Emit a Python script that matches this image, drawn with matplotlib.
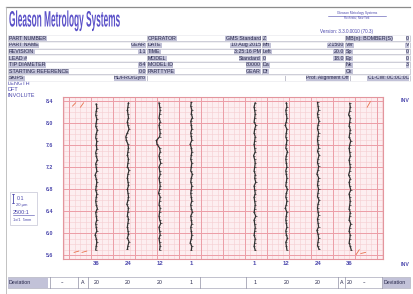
import numpy as np
import matplotlib
matplotlib.use('Agg')
import matplotlib.pyplot as plt
from matplotlib.patches import Rectangle
from matplotlib.transforms import Affine2D, blended_transform_factory
from matplotlib.patheffects import AbstractPathEffect

plt.rcParams['font.family'] = ['Liberation Sans', 'DejaVu Sans']

## Header texts
a_labels = ["PART NUMBER", "PART NAME", "REVISION", "LEAD #", "TIP DIAMETER", "STARTING REFERENCE", "SKIPS"]
a_values = ["", "GEAR", "1.1", "", "8.4", "0.0", "HL/FRO/Gyro"]
b_labels = ["OPERATOR", "DATE", "TIME", "MODEL", "MODEL ID", "PARTTYPE"]
b_values = ["GMS Standard", "10 Aug 2015", "3:25:16 PM", "Standard", "80000", "GEAR"]
c_labels = ["Z", "Mn", "Left", "0", "Da", "Df"]
c_values = ["", "2.1500", "20.0", "18.0", "", ""]
d_labels = ["MB(n): BOMBER(S)", "Ver", "Sp", "Ep", "Nk", "Ck"]
d_values = ["0", "V", "0", "0", "3", ""]
skip_texts = ["Prof. Alignment Off", "CL-CW: 0C:0C:0C"]

## Chart data
tooth_labels = ["36", "24", "12", "1", "1", "12", "24", "36"]
tooth_slot = [-4, -3, -2, -1, 1, 2, 3, 4]
y_labels = ["5.6", "6.0", "6.4", "6.8", "7.2", "7.6", "8.0", "8.4"]   # bottom -> top
trace_top = [7.05, 7.1, 7.1, 7.12, 7.1, 7.1, 7.12, 7.08]
trace_bottom = [0.42, 0.44, 0.42, 0.4, 0.4, 0.42, 0.44, 0.4]
# profile deviations (um), top -> bottom
dev = [
    [0, 1, 0, -1, 1, 0, -1, 2, 0, -1, 1, 0, 1, -1, 0, 2, -1, 0, 1, -2, 0, 1, 0, -1, 1, 0, -1, 0, 2, -1, 0, 1, -1, 0, 1, -2, 0, 1, 0, -1],
    [1, 0, -1, 0, 1, -1, 0, 2, -1, -4, -3, 0, 1, 0, -1, 1, 0, -1, 2, 0, -1, 0, 1, -1, 0, 1, 0, -2, 1, 0, -1, 1, 0, -1, 0, 1, -1, 2, 0, -1],
    [-1, 0, 1, 0, -1, 1, -1, 0, 1, 0, -6, -5, 0, 1, -1, 0, 2, -1, 0, 1, -1, 0, 1, 0, -2, 1, 0, -1, 1, 0, -1, 0, 2, -1, 0, 1, -1, 0, 1, 0],
    [0, -1, 1, 0, 2, -1, 0, 1, -1, 0, 1, -2, 0, 1, 0, -1, 1, 0, -1, 2, 0, -1, 1, 0, -1, 0, 1, -1, 0, 2, -1, 0, 1, -1, 0, 1, 0, -2, 1, 0],
    [1, -1, 0, 1, 0, -1, 2, 0, -1, 1, 0, -1, 0, 1, -2, 0, 1, 0, -1, 1, 0, 2, -1, 0, 1, -1, 0, 1, 0, -1, 2, -1, 0, 1, 0, -1, 1, 0, -1, 1],
    [0, 1, -1, 0, 1, 0, -2, 1, 0, -1, 1, 0, -1, 2, 0, -1, 0, 1, -1, 0, 1, 0, -1, 2, 0, -1, 1, 0, -2, 1, 0, -1, 0, 1, -1, 0, 2, -1, 0, 1],
    [-1, 0, 1, -1, 0, 2, 0, -1, 1, 0, -1, 0, 1, -1, 2, 0, -1, 1, 0, -2, 1, 0, -1, 1, 0, -1, 2, 0, -1, 0, 1, -1, 0, 1, -2, 0, 1, 0, -1, 2],
    [0, 1, 0, -2, 1, 0, -1, 1, 0, -1, 2, 0, -1, 0, 1, -1, 0, 1, 0, -2, 1, -1, 0, 2, -1, 0, 1, 0, -1, 1, 0, -1, 2, 0, -1, 1, 0, -1, 1, 3],
]
um_per_slot = 60.0
tol_x = [[-4.75, -4.65], [-4.5, -4.4], [4.55, 4.65], [-4.7, -4.55], [-4.45, -4.3], [4.2, 4.3], [4.35, 4.5]]
tol_y = [[6.95, 7.1], [6.9, 7.1], [6.9, 7.15], [0.3, 0.36], [0.3, 0.36], [0.2, 0.42], [0.25, 0.3]]
bottom_vals = ["20", "20", "20", "1", "1", "20", "20", "20"]


class Squeeze(AbstractPathEffect):
    # squeeze glyphs horizontally, the title font is very condensed
    def __init__(self, sx):
        super().__init__()
        self.sx = sx

    def draw_path(self, renderer, gc, tpath, affine, rgbFace=None):
        renderer.draw_path(gc, tpath, Affine2D().scale(self.sx, 1.0) + affine, rgbFace)


W, H = 413, 294
fig = plt.figure(figsize=(W / 100, H / 100), dpi=100)
bg = fig.add_axes([0, 0, 1, 1])
bg.set_xlim(0, W)
bg.set_ylim(H, 0)
bg.axis('off')

navy = '#26264a'
blue = '#4a46ac'
lab_bg = '#c2c2d8'
fs = 3.8

# frame
bg.plot([6, 410], [7, 7], color='#8c8c8c', lw=0.9)
bg.plot([6, 6], [7, 294], color='#b8b8b8', lw=0.6)

# title
t = bg.text(9, 26.5, "Gleason Metrology Systems", fontsize=16, color='#5a50c8', ha='left',
            va='baseline', weight='bold')
r = fig.canvas.get_renderer()
tw = t.get_window_extent(renderer=r).width
t.set_path_effects([Squeeze(111.0 / tw)])

bg.text(357, 13, "Gleason Metrology Systems", fontsize=2.3, color=blue, ha='center', va='center')
bg.plot([328, 386], [15.5, 15.5], color=blue, lw=0.4)
bg.text(357, 18, "Rochester, New York", fontsize=2.0, color=blue, ha='center', va='center')
bg.text(320, 31, "Version: 3.3.0.0010 (70.3)", fontsize=3.3, color=blue, ha='left', va='center')

## Header table
row_top, row_h = 35.0, 6.6


def cell(x0, x1, i, label, value, size=fs):
    yt = row_top + i * row_h
    yc = yt + row_h / 2
    bg.add_patch(Rectangle((x0, yt + 0.4), x1 - x0, row_h - 0.8, fc='white', ec='#a8a8ba', lw=0.4))
    box = dict(boxstyle='square,pad=0.08', fc=lab_bg, ec='none')
    if label:
        bg.text(x0 + 1.0, yc, label, fontsize=size, color=navy, ha='left', va='center', bbox=box)
    if value:
        bg.text(x1 - 1.0, yc, value, fontsize=size, color=navy, ha='right', va='center', bbox=box)


for i in range(6):
    cell(8, 147, i, a_labels[i], a_values[i])
    cell(147, 262, i, b_labels[i], b_values[i])
    cell(262, 345, i, c_labels[i], c_values[i])
    cell(345, 410, i, d_labels[i], d_values[i])
cell(8, 147, 6, a_labels[6], a_values[6])
cell(147, 285, 6, "", "")
cell(285, 350, 6, "", skip_texts[0], size=3.6)
cell(350, 410, 6, "", skip_texts[1], size=3.6)
for i in range(8):
    bg.plot([8, 410], [row_top + i * row_h, row_top + i * row_h], color='white', lw=0.5, zorder=5)

y_side = row_top + 7 * row_h
for k, s in enumerate(["LENGTH", "DFT", "INVOLUTE"]):
    bg.text(8, y_side + 2.5 + k * 5.8, s, fontsize=4.0, color=blue, ha='left', va='center')

# scale legend box
bg.add_patch(Rectangle((10, 192), 27, 33, fc='white', ec='#c4c4d4', lw=0.5))
bg.plot([12.5, 12.5], [194, 203], color=blue, lw=0.6)
bg.plot([11.5, 13.5], [194, 194], color=blue, lw=0.5)
bg.plot([11.5, 13.5], [203, 203], color=blue, lw=0.5)
bg.text(17, 198, "0.1", fontsize=3.8, color=blue, ha='left', va='center')
bg.text(16, 205, "20 \u00b5m", fontsize=3.0, color=blue, ha='left', va='center')
bg.text(13, 212, "2500:1", fontsize=4.0, color=blue, ha='left', va='center')
bg.plot([13, 34], [215, 215], color=blue, lw=0.4)
bg.text(13, 220, "1x/1  5mm", fontsize=2.8, color=blue, ha='left', va='center')

bg.text(401, 100, "INV", fontsize=3.8, color=blue, ha='left', va='center', weight='bold')
bg.text(401, 264, "INV", fontsize=3.8, color=blue, ha='left', va='center', weight='bold')

## Chart
x0p, x1p, y0p, y1p = 63, 383, 97, 259
ax = fig.add_axes([x0p / W, 1 - y1p / H, (x1p - x0p) / W, (y1p - y0p) / H])
ax.set_facecolor('#fdeef0')
xmax = 5.05
ymax = (y1p - y0p) / 22.0
ax.set_xlim(-xmax, xmax)
ax.set_ylim(0, ymax)

gx = 22.0 / 31.7
y_ticks = np.arange(8) + 0.18
minor_x = np.arange(-8, 8.01, 0.25) * gx
minor_y = np.arange(-0.82, ymax, 0.25)
ax.vlines(minor_x, 0, ymax, color='#f5cdd1', lw=0.4)
ax.hlines(minor_y, -xmax, xmax, color='#f5cdd1', lw=0.4)
ax.vlines(np.arange(-7, 8) * gx, 0, ymax, color='#ec9ea7', lw=0.7)
ax.hlines(y_ticks, -xmax, xmax, color='#ec9ea7', lw=0.7)

for i, pos in enumerate(tooth_slot):
    d = np.array(dev[i]) / um_per_slot
    yy = np.linspace(trace_top[i], trace_bottom[i], len(d))
    ax.plot(pos + d, yy, color='#303030', lw=0.9, marker='_', ms=1.8, mew=0.5)

for tx, ty in zip(tol_x, tol_y):
    ax.plot(tx, ty, color='#e8704c', lw=0.6)

ax.set_xticks(tooth_slot, tooth_labels)
ax.set_yticks(y_ticks, y_labels)
ax.tick_params(length=0, labelsize=3.8, colors=blue)
ax.tick_params(axis='x', pad=1.2, labelsize=4.3)
ax.tick_params(axis='y', pad=7)
for lab in ax.get_xticklabels() + ax.get_yticklabels():
    lab.set_fontweight('bold')
for sp in ax.spines.values():
    sp.set_color('#e3959d')
    sp.set_linewidth(0.8)

## Bottom row
yb = 277
bg.add_patch(Rectangle((8, yb), 402, 11, fc='white', ec='#a8a8ba', lw=0.5))
bg.add_patch(Rectangle((8, yb + 0.5), 40, 10, fc=lab_bg, ec='none'))
bg.add_patch(Rectangle((383, yb + 0.5), 27, 10, fc=lab_bg, ec='none'))
bg.text(9, yb + 5.5, "Deviation", fontsize=fs, color=navy, ha='left', va='center')
bg.text(384, yb + 5.5, "Deviation", fontsize=fs, color=navy, ha='left', va='center')
for xs in [50, 78, 88, 200, 246, 338, 345, 382]:
    bg.plot([xs, xs], [yb, yb + 11], color='#9090a4', lw=0.5)
bg.text(63, yb + 5.5, "--", fontsize=fs, color=navy, ha='center', va='center')
bg.text(83, yb + 5.5, "A", fontsize=fs, color=navy, ha='center', va='center')
bg.text(341.5, yb + 5.5, "A", fontsize=fs, color=navy, ha='center', va='center')
bg.text(365, yb + 5.5, "--", fontsize=fs, color=navy, ha='center', va='center')
trans = blended_transform_factory(ax.transData, bg.transData)
for pos, v in zip(tooth_slot, bottom_vals):
    bg.text(pos, yb + 5.5, v, fontsize=fs, color=navy, ha='center', va='center', transform=trans)

fig.savefig('out.png', dpi=100)
